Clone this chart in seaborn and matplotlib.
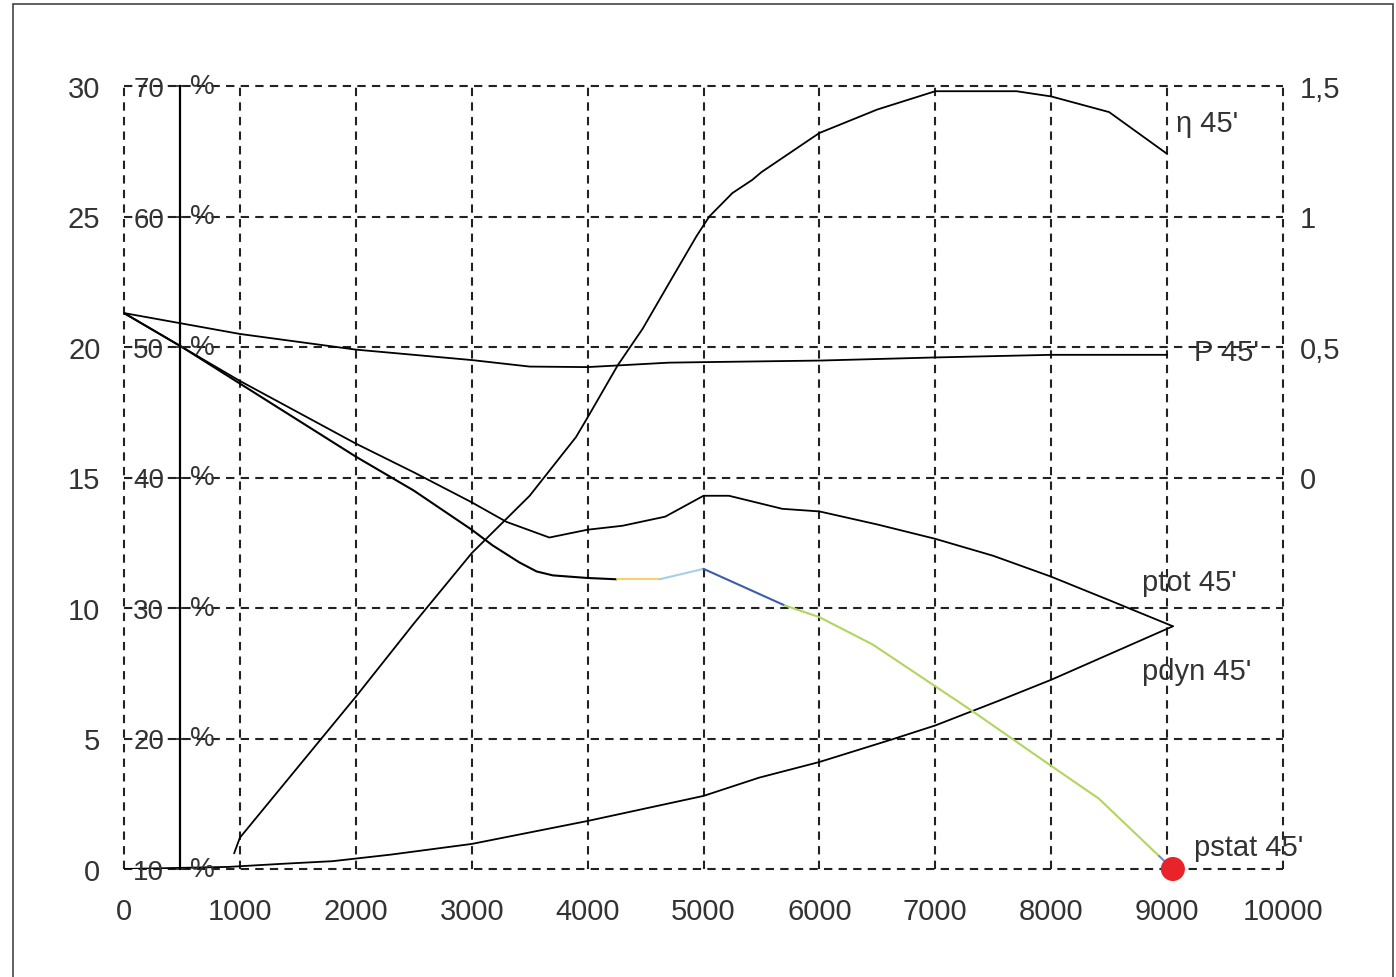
import numpy as np
import matplotlib
matplotlib.use("Agg")
import matplotlib.pyplot as plt
from matplotlib.patches import Rectangle
import seaborn as sns

# air flow (x) values
eta_x = [950, 1000, 1500, 2000, 2500, 3000, 3500, 3900, 4000, 4260, 4475, 4710, 4940,
         5050, 5250, 5420, 5500, 6000, 6500, 7000, 7700, 8000, 8500, 9000]
eta_pct = [11.2, 12.4, 17.8, 23.2, 28.8, 34.2, 38.6, 43.1, 44.6, 48.6, 51.4, 55.0, 58.5,
           60.0, 61.8, 62.8, 63.4, 66.4, 68.2, 69.6, 69.6, 69.2, 68.0, 64.8]

p_x = [0, 500, 1000, 2000, 3000, 3500, 4000, 4700, 5000, 6000, 7000, 8000, 9000]
p_kw = [0.63, 0.59, 0.55, 0.49, 0.45, 0.425, 0.423, 0.44, 0.442, 0.448, 0.46, 0.47, 0.47]

ptot_x = [0, 500, 1000, 1500, 2000, 2500, 3000, 3300, 3670, 4000, 4300, 4670, 5000,
          5220, 5680, 6000, 6500, 7000, 7500, 8000, 8500, 9050]
ptot = [21.3, 20.0, 18.7, 17.5, 16.3, 15.2, 14.05, 13.3, 12.7, 13.0, 13.15, 13.5, 14.3,
        14.3, 13.8, 13.7, 13.2, 12.65, 12.0, 11.2, 10.3, 9.3]

pdyn_x = [0, 900, 1370, 1800, 2300, 3000, 4000, 5000, 5480, 6000, 6630, 7000, 7550, 8000, 9050]
pdyn = [0.0, 0.08, 0.2, 0.3, 0.55, 0.96, 1.84, 2.8, 3.5, 4.1, 4.97, 5.5, 6.45, 7.25, 9.3]

pstat_x = [0, 500, 1000, 1500, 2000, 2500, 3000, 3180, 3410, 3560, 3700, 4000, 4250,
           4620, 5000, 5700, 6000, 6460, 7000, 7320, 8000, 8410, 8930, 9050]
pstat = [21.3, 20.0, 18.6, 17.2, 15.8, 14.5, 13.0, 12.4, 11.75, 11.4, 11.25, 11.15, 11.1,
         11.1, 11.5, 10.1, 9.65, 8.6, 7.0, 6.05, 3.95, 2.7, 0.5, 0.0]

# colour pieces of the pstat curve (x ranges)
pstat_pieces = [(0, 4250, "black"), (4250, 4620, "#f5d36a"), (4620, 5000, "#a8cfe8"),
                (5000, 5700, "#3d5cae"), (5700, 8930, "#b2d55e"), (8930, 9050, "#7488cc")]

x_ticks = list(range(0, 10001, 1000))
left_ticks = [0, 5, 10, 15, 20, 25, 30]
pct_ticks = [10, 20, 30, 40, 50, 60, 70]
right_ticks = [0, 0.5, 1, 1.5]
right_labels = ["0", "0,5", "1", "1,5"]

sns.set_theme(style="white")
plt.rcParams['font.family'] = ['Liberation Sans', 'DejaVu Sans']

fig = plt.figure(figsize=(13.96, 9.78), dpi=100)
ax = fig.add_axes([124 / 1396, 1 - 870 / 978, (1283 - 124) / 1396, (870 - 87) / 978])
txt = "#333333"
fs = 21

ax.set_xlim(0, 10000)
ax.set_ylim(0, 30)
ax.set_xticks(x_ticks)
ax.set_yticks(left_ticks)
ax.tick_params(axis="x", length=0, pad=20, labelsize=fs, labelcolor=txt)
ax.tick_params(axis="y", length=0, pad=17, labelsize=fs, labelcolor=txt)
for s in ax.spines.values():
    s.set_visible(False)
ax.grid(True, color="#222222", linestyle=(0, (4, 3)), linewidth=1.5)
for gl in ax.get_xgridlines() + ax.get_ygridlines():
    gl.set_clip_on(False)
ax.set_axisbelow(True)
ax.patch.set_alpha(0)

# pressures on the left axis
sns.lineplot(x=ptot_x, y=ptot, ax=ax, color="black", lw=1.3, estimator=None, sort=False)
sns.lineplot(x=pdyn_x, y=pdyn, ax=ax, color="black", lw=1.3, estimator=None, sort=False)
px = np.array(pstat_x)
py = np.array(pstat)
for lo, hi, col in pstat_pieces:
    m = (px >= lo) & (px <= hi)
    sns.lineplot(x=px[m], y=py[m], ax=ax, color=col, lw=1.5, estimator=None, sort=False)
sns.scatterplot(x=[pstat_x[-1]], y=[pstat[-1]], ax=ax, color="#e8232a", s=300,
                edgecolor="none", zorder=5, clip_on=False)

# efficiency axis (inside the plot)
ax_pct = ax.twinx()
ax_pct.set_ylim(10, 70)
sns.lineplot(x=eta_x, y=eta_pct, ax=ax_pct, color="black", lw=1.3, estimator=None, sort=False)
for name, s in ax_pct.spines.items():
    s.set_visible(name == "left")
ax_pct.spines["left"].set_position(("data", 483))
ax_pct.spines["left"].set_color("black")
ax_pct.spines["left"].set_linewidth(1.6)
ax_pct.yaxis.set_ticks_position("left")
ax_pct.set_yticks(pct_ticks)
ax_pct.set_yticklabels([str(v) for v in pct_ticks])
ax_pct.tick_params(axis="y", direction="inout", length=7, width=1.2, pad=8,
                   labelsize=fs - 1, labelcolor=txt, left=True)
for v in pct_ticks:
    ax_pct.text(570, v, "%", fontsize=fs - 1, color=txt, va="center", ha="left")
ax_pct.set_ylabel("")

# power axis on the right
ax_r = ax.twinx()
ax_r.set_ylim(-1.5, 1.5)
sns.lineplot(x=p_x, y=p_kw, ax=ax_r, color="black", lw=1.3, estimator=None, sort=False)
for s in ax_r.spines.values():
    s.set_visible(False)
ax_r.set_yticks(right_ticks)
ax_r.set_yticklabels(right_labels)
ax_r.tick_params(axis="y", length=0, pad=12, labelsize=fs, labelcolor=txt)
ax_r.set_ylabel("")

# curve labels
ax.text(9080, 28.6, "η 45'", fontsize=fs, color=txt, va="center", ha="left")
ax.text(9233, 19.8, "P 45'", fontsize=fs, color=txt, va="center", ha="left")
ax.text(8784, 11.0, "ptot 45'", fontsize=fs, color=txt, va="center", ha="left")
ax.text(8784, 7.6, "pdyn 45'", fontsize=fs, color=txt, va="center", ha="left")
ax.text(9233, 0.85, "pstat 45'", fontsize=fs, color=txt, va="center", ha="left")

fig.patches.append(Rectangle((13 / 1396, -0.01), (1393 - 13) / 1396, 1 - 5 / 978 + 0.01,
                             transform=fig.transFigure, fill=False, ec="#444444", lw=1.2))

fig.savefig("out.png", dpi=100)
